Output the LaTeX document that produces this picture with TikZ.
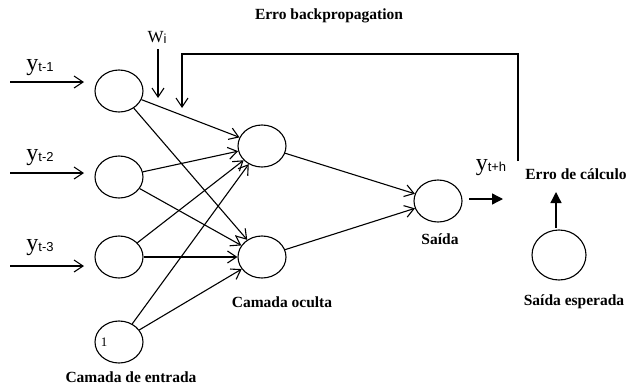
\documentclass[tikz,border=0pt]{standalone}
\usepackage{fontspec}
\setmainfont{Liberation Serif}
\setsansfont{Liberation Sans}
\usetikzlibrary{arrows.meta,shapes.geometric}
\begin{document}
\begin{tikzpicture}[x=1pt,y=-1pt,
  neuron/.style={draw,ellipse,line width=1.1pt,minimum width=48pt,minimum height=42pt,inner sep=0pt},
  conn/.style={line width=1.1pt,-{Straight Barb[length=9pt,width=12pt,line width=1.1pt]}},
  plain/.style={line width=1.1pt},
  solidarrow/.style={line width=1.3pt,-{Triangle[length=11pt,width=11pt]}},
  lbl/.style={font=\bfseries\fontsize{15.5}{17}\selectfont,inner sep=0pt},
  ylbl/.style={inner sep=0pt}]
\useasboundingbox (0,0) rectangle (629,388);
\newcommand{\ysub}[1]{{\fontsize{24}{24}\selectfont y}\raisebox{-1pt}{\sffamily\fontsize{13}{13}\selectfont #1}}
% neurons
\node[neuron] (i1) at (119,91) {};
\node[neuron] (i2) at (119,177) {};
\node[neuron] (i3) at (119,257) {};
\node[neuron] (i4) at (119,342) {};
\node[inner sep=0pt,font=\fontsize{13}{13}\selectfont] (b1) at (104,342) {1};
\node[neuron] (h1) at (262,146) {};
\node[neuron] (h2) at (262,257) {};
\node[neuron] (o) at (438,201) {};
\node[neuron,minimum width=54pt,minimum height=50pt] (e) at (559,255) {};
% input arrows
\coordinate (a1) at (10,82); \coordinate (a1e) at (84,82);
\coordinate (a2) at (10,173); \coordinate (a2e) at (84,173);
\coordinate (a3) at (10,266); \coordinate (a3e) at (84,266);
\draw[conn] (a1) -- (a1e);
\draw[conn] (a2) -- (a2e);
\draw[conn] (a3) -- (a3e);
\node[ylbl] (l1) at (40,68) {\ysub{t-1}};
\node[ylbl] (l2) at (40,158) {\ysub{t-2}};
\node[ylbl] (l3) at (40,248) {\ysub{t-3}};
% weights
\node[inner sep=0pt] (wi) at (157,37) {{\fontsize{17}{17}\selectfont W}\raisebox{-1pt}{\sffamily\fontsize{13}{13}\selectfont i}};
\coordinate (w1) at (158,49); \coordinate (w2) at (158,98);
\draw[conn] (w1) -- (w2);
% connections
\foreach \s in {i1,i2,i3,i4}{
  \draw[conn] (\s) -- (h1);
  \draw[conn] (\s) -- (h2);
}
\draw[conn] (h1) -- (o);
\draw[conn] (h2) -- (o);
% feedback
\coordinate (f1) at (518,161);
\coordinate (f2) at (518,54);
\coordinate (f3) at (182,54);
\coordinate (f4) at (182,108);
\draw[conn] (f1) -- (f2) -- (f3) -- (f4);
% output
\coordinate (oa) at (469,199); \coordinate (ob) at (503,199);
\draw[solidarrow] (oa) -- (ob);
\coordinate (ea) at (556,228); \coordinate (eb) at (556,192);
\draw[solidarrow] (ea) -- (eb);
\node[ylbl] (lo) at (491,168) {\ysub{t+h}};
% labels
\node[lbl] (title) at (329,16) {Erro backpropagation};
\node[lbl] (calc) at (576,174) {Erro de cálculo};
\node[lbl] (said) at (440,239) {Saída};
\node[lbl] (esp) at (574,302) {Saída esperada};
\node[lbl] (oc) at (282,302) {Camada oculta};
\node[lbl] (ent) at (131,377) {Camada de entrada};
\end{tikzpicture}
\end{document}
